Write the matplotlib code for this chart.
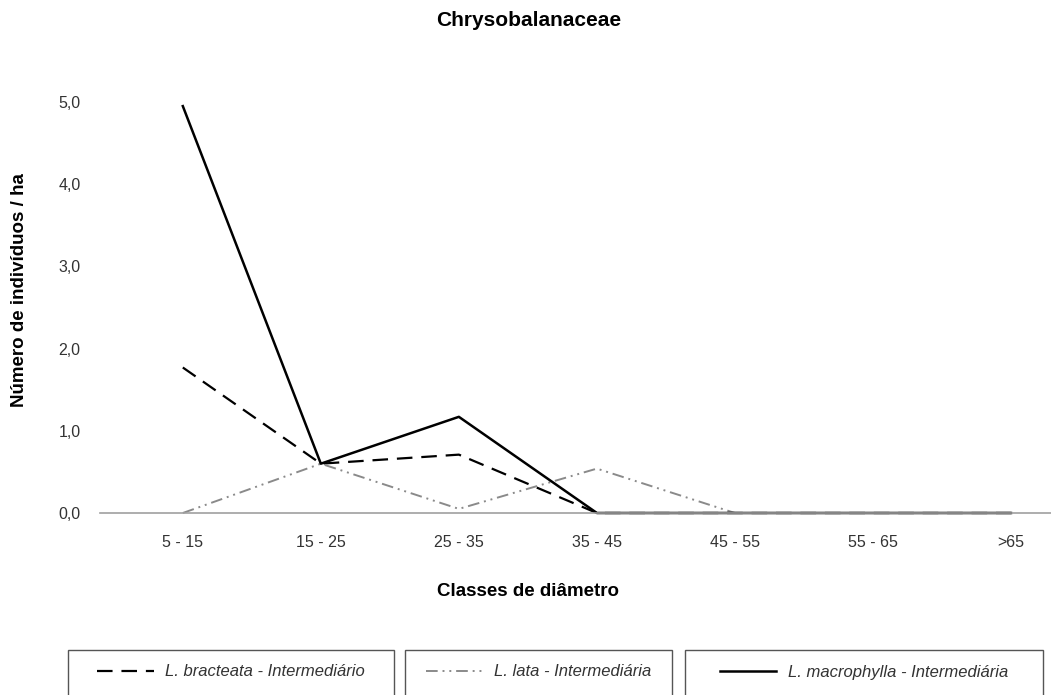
import matplotlib.pyplot as plt
from matplotlib.patches import Rectangle

plt.rcParams['font.family'] = ['Liberation Sans', 'DejaVu Sans']

classes = ["5 - 15", "15 - 25", "25 - 35", "35 - 45", "45 - 55", "55 - 65", ">65"]
bracteata = [1.77, 0.6, 0.71, 0.0, 0.0, 0.0, 0.0]
lata = [0.0, 0.6, 0.05, 0.54, 0.0, 0.0, 0.0]
macrophylla = [4.95, 0.6, 1.17, 0.0, 0.0, 0.0, 0.0]
yticks = [0, 1, 2, 3, 4, 5]

W, H = 1051, 695
fig = plt.figure(figsize=(W / 100, H / 100), dpi=100)
ax = fig.add_axes([100 / W, 1 - 513 / H, 951 / W, (513 - 60) / H])

x = list(range(len(classes)))
l1, = ax.plot(x, bracteata, color='black', lw=1.6, dashes=(7, 4), clip_on=False)
l2, = ax.plot(x, lata, color='#8a8a8a', lw=1.4, dashes=(6, 2.5, 1, 2.5, 1, 2.5), clip_on=False)
l3, = ax.plot(x, macrophylla, color='black', lw=1.8, clip_on=False)

ax.set_xlim(-0.6, 6.29)
ax.set_ylim(0, (513 - 60) / 82.2)
ax.set_xticks(x)
ax.set_xticklabels(classes)
ax.set_yticks(yticks)
ax.set_yticklabels([f"{v:.1f}".replace('.', ',') for v in yticks])
ax.tick_params(length=0, labelsize=11.5, colors='#333333', pad=16)
ax.tick_params(axis='y', pad=14)
for s in ['top', 'right', 'left']:
    ax.spines[s].set_visible(False)
ax.spines['bottom'].set_color('#a0a0a0')
ax.spines['bottom'].set_linewidth(1.2)

fig.text(528 / W, 1 - 592 / H, "Classes de diâmetro", ha='center', va='center',
         fontsize=13.5, fontweight='bold')
fig.text(20 / W, 1 - 290 / H, "Número de indivíduos / ha", ha='center', va='center',
         rotation=90, fontsize=13.5, fontweight='bold')
fig.text(529 / W, 1 - 20 / H, "Chrysobalanaceae", ha='center', va='center',
         fontsize=15, fontweight='bold')

# three separate legend boxes along the bottom
boxes = [(68, 394, l1, "L. bracteata - Intermediário"),
         (405, 672, l2, "L. lata - Intermediária"),
         (685, 1043, l3, "L. macrophylla - Intermediária")]
for x0, x1, h, lab in boxes:
    fig.patches.append(Rectangle((x0 / W, 1 - 700 / H), (x1 - x0) / W, 50 / H,
                                 transform=fig.transFigure, fill=False,
                                 edgecolor='#555555', lw=1))
    fig.legend(handles=[h], labels=[lab], loc='center',
               bbox_to_anchor=((x0 + x1) / 2 / W, 1 - 672 / H),
               frameon=False, prop={'style': 'italic', 'size': 12},
               handlelength=3.4, handletextpad=0.7, labelcolor='#333333')

fig.savefig("out.png", dpi=100)
